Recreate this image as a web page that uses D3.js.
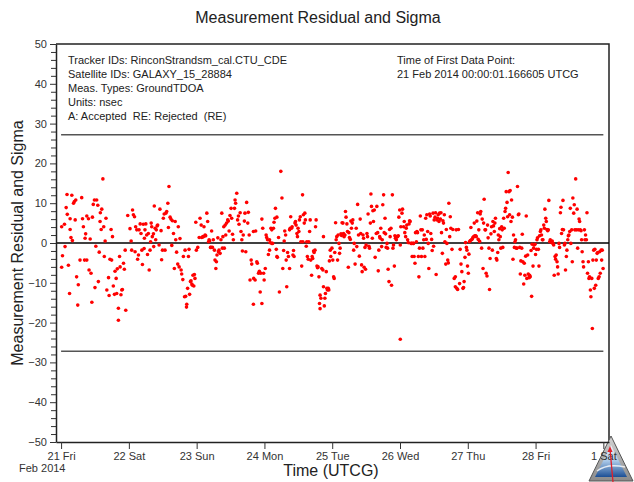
<!DOCTYPE html>
<html>
<head>
<meta charset="utf-8">
<script src="https://cdn.jsdelivr.net/npm/d3@7/dist/d3.min.js"></script>
<style>
  html, body { margin: 0; padding: 0; background: #fff; }
  svg { display: block; font-family: "Liberation Sans", Arial, sans-serif; }
</style>
</head>
<body>
<svg id="chart" width="634" height="482"></svg>
<script>
// ---- chart text ----
const chartTitle = "Measurement Residual and Sigma";
const yAxisTitle = "Measurement Residual and Sigma";
const xAxisTitle = "Time (UTCG)";
const monthLabel = "Feb 2014";
const headerLeft = [
  "Tracker IDs: RinconStrandsm_cal.CTU_CDE",
  "Satellite IDs: GALAXY_15_28884",
  "Meas. Types: GroundTDOA",
  "Units: nsec",
  "A: Accepted  RE: Rejected  (RE)"
];
const headerRight = [
  "Time of First Data Point:",
  "21 Feb 2014 00:00:01.166605 UTCG"
];

// ---- axes ----
const yMajorTicks = [50, 40, 30, 20, 10, 0, -10, -20, -30, -40, -50];
const xTickDays = ["2014-02-21", "2014-02-22", "2014-02-23", "2014-02-24", "2014-02-25",
                   "2014-02-26", "2014-02-27", "2014-02-28", "2014-03-01"];
const xTickLabels = ["21 Fri", "22 Sat", "23 Sun", "24 Mon", "25 Tue",
                     "26 Wed", "27 Thu", "28 Fri", "1 Sat"];

// ---- measurement data ----
const firstDataTime = "2014-02-21T00:00:01.166Z";
const lastDataHour = 192;          // hours after first data point
const sigmaBound = 27.2;           // nsec, +/- sigma
// [hours after first data point, residual in nsec]
const residualSamples = [
  [0.2,4.1],[1.2,4.7],[0.5,-3.2],[0.2,-6.1],[1.4,-0.9],[1.8,8.9],[2.2,7.2],[2.1,12.2],[3.2,6.1],[3.2,3.4],
  [2.6,-5.6],[3.0,-12.7],[3.5,1.4],[4.0,0.6],[3.8,12.0],[4.4,10.0],[4.7,10.4],[5.2,10.8],[5.0,5.8],[5.5,-8.5],
  [5.9,-15.6],[6.1,-10.5],[6.7,-4.3],[7.3,11.4],[7.6,6.1],[7.9,4.1],[8.3,-4.3],[8.7,2.3],[8.5,1.2],[9.1,-4.3],
  [9.1,6.8],[9.7,6.1],[9.9,-6.8],[10.3,1.0],[10.6,-7.6],[10.9,-14.9],[11.1,6.5],[11.4,9.7],[11.8,10.8],[12.0,-11.2],
  [12.3,-0.8],[12.6,10.8],[13.0,9.5],[13.2,-9.7],[13.5,-2.3],[13.8,5.4],[13.9,7.6],[14.2,3.4],[14.4,8.5],[14.8,16.1],
  [15.1,4.1],[15.3,-3.4],[15.6,0.5],[15.9,6.2],[16.2,-11.8],[16.8,-8.7],[17.0,-13.2],[17.3,-4.1],[17.7,3.4],[17.9,-4.3],
  [18.2,1.6],[18.5,-10.8],[18.9,-12.9],[19.1,-7.1],[19.5,-8.9],[19.7,-12.7],[19.9,-6.5],[20.3,-16.4],[20.3,-19.4],[20.7,-3.4],
  [20.9,-6.0],[21.2,-13.0],[21.5,-11.8],[21.7,-11.7],[22.1,-5.1],[22.4,-6.6],[22.7,-1.8],[22.9,-16.9],
  [23.6,6.9],[24.4,3.6],[24.8,0.5],[25.0,-1.8],[25.3,8.3],[25.6,7.1],[26.0,6.6],[26.2,-2.2],[26.4,4.1],[26.8,3.3],
  [27.1,-4.1],[27.4,-3.0],[27.6,3.3],[28.0,4.8],[28.3,2.4],[28.6,-1.8],[28.8,-5.4],[29.1,4.7],[29.4,-1.4],[29.5,1.2],
  [29.7,3.3],[30.0,4.8],[30.3,2.0],[30.6,-2.9],[30.9,2.4],[31.2,-6.8],[31.5,-1.8],[31.7,0.3],[31.9,5.0],[32.1,4.1],
  [32.3,1.6],[32.7,2.3],[32.8,-0.9],[33.0,9.3],[33.3,3.7],[33.5,0.8],[33.7,3.3],[34.0,4.3],[34.2,4.5],[34.7,-0.5],
  [35.0,8.5],[35.4,3.1],[35.6,-4.2],[35.9,-1.8],[36.2,6.2],[36.5,7.3],[36.8,-1.8],[37.1,7.5],[37.4,7.9],[37.8,10.0],
  [38.0,3.9],[38.2,14.2],[38.6,6.5],[38.9,6.0],[39.2,-0.6],[39.4,5.6],[39.8,2.4],[40.1,-6.4],[40.4,5.4],[40.6,0.8],
  [40.9,-2.3],[41.3,-5.3],[41.5,4.1],[41.8,-6.0],[42.1,1.1],[42.5,-6.8],[42.7,-7.8],[43.1,-9.2],[43.3,-3.4],[43.7,-13.5],
  [43.9,-1.8],[44.1,-13.4],[44.4,-16.1],[44.5,-15.4],[44.8,-11.4],[45.1,-3.4],[45.3,-1.6],[45.5,-12.9],[45.8,-9.7],[46.0,-9.5],
  [46.3,-10.3],[46.5,-10.6],[46.7,-8.1],[47.0,-10.8],[47.2,-7.9],[47.4,-8.9],[47.7,5.2],[47.9,-1.8],[48.4,-1.1],[48.9,1.4],
  [49.2,6.2],[49.6,4.5],[49.8,1.4],[50.2,1.6],[50.4,1.6],[50.6,4.1],[51.0,2.0],[51.2,1.8],[51.6,7.5],[51.9,5.4],
  [52.2,0.3],[52.4,0.8],[52.6,0.5],[52.9,-1.1],[53.1,-1.1],[53.3,3.0],[53.6,-1.1],[53.9,0.8],[54.3,-1.8],[54.5,-4.3],
  [54.8,-6.4],[55.0,-4.7],[55.2,-3.0],[55.5,1.3],[55.7,-2.2],[55.9,-1.8],[56.3,-2.6],[56.6,0.8],[56.9,7.5],[57.1,-1.3],
  [57.3,1.6],[57.6,4.1],[57.8,-1.3],[58.1,4.5],[58.3,2.0],[58.6,5.0],[59.0,5.8],[59.2,5.5],[59.5,3.0],[59.8,6.9],
  [60.2,8.7],[60.4,6.2],[60.7,2.2],[61.0,0.8],[61.4,8.7],[61.6,10.8],[61.8,10.0],[62.2,12.5],[62.5,5.8],[62.8,6.8],
  [63.0,4.7],[63.4,7.6],[63.7,2.9],[64.0,0.8],[64.2,-2.0],[64.5,2.0],[64.9,5.5],[65.1,7.5],[65.4,-2.2],[65.7,10.2],
  [66.1,5.0],[66.3,7.7],[66.6,2.0],[66.9,-9.3],[67.3,-4.3],[67.5,-5.3],[68.1,2.9],[68.2,-8.9],[68.1,-15.4],
  [68.7,-9.3],[68.9,3.0],[69.3,-4.7],[69.5,-5.1],[69.9,-7.6],[70.2,-7.1],[70.5,-12.3],[70.7,-7.6],[71.1,6.0],[71.1,-15.2],
  [71.4,3.7],[71.7,-7.6],[71.9,-9.3],[72.3,-6.4],[72.6,2.0],[72.8,1.4],[73.1,0.8],[73.4,-2.9],[73.8,-1.8],[73.8,0.8],
  [74.0,0.1],[74.3,3.7],[74.6,3.3],[74.6,-0.1],[74.9,-0.1],[75.2,3.7],[75.4,5.2],[75.7,6.2],[75.9,8.7],[76.2,-1.6],
  [76.4,-3.4],[76.4,6.5],[76.6,-3.6],[77.0,1.4],[77.3,-12.3],[77.8,18.0],[78.2,11.3],[78.5,-6.4],[78.8,-1.9],[79.0,0.5],
  [79.2,3.0],[79.5,2.0],[79.7,-4.3],[79.9,-11.0],[80.2,-2.4],[80.5,-3.4],[80.9,-6.4],[80.9,3.3],[81.1,3.7],[81.3,6.6],
  [81.6,3.7],[81.8,4.1],[82.1,-3.0],[82.3,-1.9],[82.5,-3.4],[82.8,5.0],[83.0,5.4],[83.2,4.5],[83.5,2.4],[83.7,1.6],
  [83.9,3.7],[84.2,2.9],[84.4,5.8],[84.7,6.6],[84.9,0.3],[85.2,-5.8],[85.5,12.1],[85.6,0.3],[85.8,7.1],[86.1,5.0],
  [86.3,7.5],[86.5,5.8],[86.8,-0.8],[87.0,0.3],[87.2,-3.4],[87.5,-4.1],[87.7,0.3],[88.0,2.9],[88.2,5.8],[88.4,-4.3],
  [88.7,-8.1],[88.9,-3.4],[89.1,-3.9],[89.4,-2.0],[89.6,-2.4],[89.9,-1.8],[90.1,4.1],[90.3,5.8],[90.6,-5.8],[90.8,-6.2],
  [91.0,-6.0],[91.3,-8.5],[91.5,-15.2],[91.7,-13.1],[91.7,-16.5],[92.0,-13.9],[92.3,-6.4],[92.7,-6.8],[92.9,1.6],[92.9,-11.0],
  [93.2,-15.8],[93.4,-13.9],[93.6,-12.7],[93.9,-7.2],[94.1,-11.4],[94.3,-11.8],[94.6,-11.4],[94.8,-11.8],[95.0,-4.5],[95.3,-1.8],
  [95.5,-3.4],[95.9,-1.3],[96.2,-4.3],[96.5,-8.5],[96.7,-8.9],[96.9,-2.4],[97.2,5.1],[97.4,0.8],[97.6,1.6],[97.9,-4.3],
  [98.1,2.0],[98.4,-0.1],[98.6,-2.6],[98.8,-1.3],[99.1,2.3],[99.3,1.9],[99.5,5.1],[99.8,5.0],[100.0,2.4],[100.2,1.6],
  [100.5,2.0],[100.7,7.9],[100.9,6.5],[101.2,4.8],[101.4,2.9],[101.7,-6.1],[101.9,2.6],[102.1,1.4],[102.4,0.9],[102.6,5.5],
  [102.8,3.7],[103.1,5.0],[103.3,5.8],[103.6,-1.8],[103.8,-0.1],[104.1,-5.3],[104.5,3.7],[104.7,-0.9],[105.0,9.7],[105.3,2.0],
  [105.6,-3.3],[105.9,6.0],[106.1,2.4],[106.4,-5.5],[106.6,-7.2],[106.9,2.0],[107.1,1.2],[107.3,-6.1],[107.6,-1.1],[107.8,-6.6],
  [108.0,-0.5],[108.3,2.4],[108.5,1.6],[108.7,7.3],[109.0,-0.8],[109.2,-1.3],[109.5,5.0],[109.7,12.3],[109.9,9.2],[110.2,1.2],
  [110.4,8.1],[110.6,5.4],[110.9,8.3],[111.2,-3.6],[111.6,2.4],[111.8,9.2],[112.1,2.6],[112.3,-7.0],[112.5,-1.8],[112.8,1.6],
  [113.0,1.2],[113.2,3.7],[113.5,-0.9],[113.7,0.8],[113.9,9.6],[114.2,12.1],[114.4,2.6],[114.7,6.2],[114.9,2.3],[115.1,-1.1],
  [115.4,-0.1],[115.6,-1.3],[115.8,-6.6],[116.1,-9.7],[116.3,3.4],[116.5,1.6],[116.8,3.7],[117.0,-10.6],[117.3,12.1],[117.5,-1.3],
  [117.7,-0.5],[118.0,-5.8],[118.2,1.8],[118.4,1.2],[118.7,0.8],[118.9,1.6],[119.1,1.6],[119.4,1.8],[119.6,6.5],[119.9,8.3],
  [120.1,-0.5],[120.1,-24.2],[120.3,4.1],[120.7,7.5],[120.9,8.5],[121.3,4.1],[121.5,5.4],[121.7,2.6],[122.0,1.6],[122.2,3.7],
  [122.4,4.5],[122.7,0.8],[122.9,0.1],[123.2,4.8],[123.4,5.6],[123.6,5.4],[123.9,-0.1],[124.1,-0.1],[124.3,-3.4],[124.6,-0.1],
  [124.8,-0.1],[125.0,-3.4],[125.3,-5.1],[125.5,2.6],[125.8,0.3],[126.0,2.9],[126.2,2.6],[126.5,-3.4],[126.7,-8.5],[126.9,-1.3],
  [127.2,6.8],[127.4,3.3],[127.6,-3.4],[127.9,3.3],[128.1,-1.3],[128.4,0.8],[128.6,2.0],[128.8,-3.4],[129.1,6.2],[129.3,0.9],
  [129.5,7.1],[129.8,2.9],[130.0,-0.1],[130.2,-6.4],[130.5,7.3],[130.7,6.8],[130.9,2.4],[131.2,0.9],[131.4,-1.9],[131.7,7.5],
  [131.9,-0.8],[132.1,5.8],[132.4,6.5],[132.6,7.6],[132.8,-7.9],[133.1,5.8],[133.3,6.2],[133.5,7.1],[133.8,5.4],[134.0,7.5],
  [134.3,6.0],[134.5,7.6],[134.7,2.6],[135.0,-2.6],[135.2,5.6],[135.4,5.0],[135.7,7.1],[135.9,0.3],[136.2,-5.3],[136.4,3.4],
  [136.6,-0.1],[136.9,-4.3],[137.1,-5.0],[137.3,10.0],[137.6,1.6],
  [137.8,6.6],[138.0,3.7],[138.4,-1.6],[138.7,3.4],[139.2,-8.9],[139.6,-8.5],[139.6,-11.0],[139.9,3.3],[140.1,-11.4],[140.4,-11.7],
  [140.7,3.4],[141.1,-10.2],[141.3,-1.6],[141.6,-5.3],[141.9,-7.2],[142.3,-11.4],[142.5,-11.2],[142.7,-9.7],[143.0,-3.6],[143.2,0.1],
  [143.5,-1.1],[143.7,-1.8],[143.9,-5.8],[144.2,-7.6],[144.4,-2.8],[144.6,0.3],[144.9,0.6],[145.1,3.9],[145.3,0.8],[145.6,1.0],
  [145.8,1.4],[146.1,1.6],[146.3,5.0],[146.5,1.8],[146.8,1.8],[147.0,1.6],[147.2,5.5],[147.5,7.6],[147.7,0.9],[147.9,3.3],
  [148.2,0.4],[148.4,7.3],[148.6,7.9],[148.9,-1.3],[149.1,6.0],[149.4,-6.4],[149.6,5.0],[149.8,11.0],[150.1,3.3],[150.3,3.3],
  [150.5,-7.6],[150.8,-8.3],[151.0,4.5],[151.2,1.3],[151.5,-1.3],[151.7,-11.7],[151.9,-3.9],[152.2,2.3],[152.4,4.1],[152.7,-1.8],
  [152.9,5.4],[153.1,4.3],[153.4,2.9],[153.6,5.0],[153.8,6.2],[154.1,-3.9],[154.3,-4.3],[154.6,-2.4],[154.8,2.0],[155.0,0.8],
  [155.3,3.6],[155.5,1.6],[155.7,-1.3],[156.0,4.1],[156.2,3.3],[156.4,-1.1],[156.7,6.2],[156.9,3.7],[157.2,7.9],[157.4,8.7],
  [157.6,12.9],[157.9,10.2],[158.1,6.6],[158.3,17.7],[158.6,12.9],[158.8,7.1],[159.0,13.2],[159.3,5.4],[159.5,10.8],[159.8,6.5],
  [160.0,-4.1],[160.2,2.0],[160.5,-1.1],[160.7,0.3],[160.9,0.8],[161.2,-1.3],[161.4,-1.3],[161.6,14.2],[161.9,7.1],[162.1,7.3],
  [162.4,-1.1],[162.6,-7.8],[162.8,-4.5],[163.1,-1.3],[163.3,2.2],[163.5,-4.7],[163.8,-10.3],[164.0,-5.1],[164.2,-8.1],[164.5,-3.3],
  [164.7,6.8],[164.9,-8.9],[165.2,-3.0],[165.4,-7.8],[165.7,-8.7],[165.9,-8.1],[166.1,-8.5],[166.4,-1.9],[166.6,-13.4],[166.8,-0.3],
  [167.1,-5.8],[167.3,-1.3],[167.5,-0.5],[167.8,-0.3],[168.0,-2.9],[168.3,-1.6],[168.5,0.8],[168.7,1.3],[169.0,-1.6],[169.2,-5.8],
  [169.4,1.8],[169.7,2.9],[169.9,3.3],[170.1,2.0],[170.4,0.8],[170.6,0.8],[170.9,4.5],[171.1,3.7],[171.3,8.5],[171.6,6.2],
  [171.8,5.4],[172.0,3.4],[172.3,3.1],[172.5,3.3],[172.7,10.7],[173.0,0.3],[173.2,0.8],[173.4,0.3],[173.7,0.1],[173.9,0.5],
  [174.2,-0.1],[174.4,-0.5],[174.6,-8.1],[174.9,-3.4],[175.1,-4.1],[175.3,-3.0],[175.6,-4.7],[175.8,-6.0],[176.0,-7.8],[176.3,-0.1],
  [176.5,-1.1],[176.8,7.6],[177.0,9.0],[177.2,2.4],[177.5,3.4],[177.7,10.7],[177.9,3.3],[178.2,-0.5],[178.4,-0.1],[178.6,-6.8],
  [178.9,-3.4],[179.1,-1.8],[179.4,0.8],[179.6,1.8],[179.8,2.0],[180.1,2.9],[180.3,8.7],[180.5,-0.1],[180.8,3.3],[181.0,-4.7],
  [181.2,11.3],[181.5,7.5],[181.7,9.6],[181.9,3.3],[182.2,16.1],[182.4,3.3],[182.7,8.5],[182.9,-1.3],[183.1,3.3],[183.4,6.0],
  [183.6,5.4],[183.8,3.3],[184.1,3.1],[184.3,0.8],[184.5,-2.2],[184.8,-4.7],[185.0,-6.0],[185.3,3.3],[185.5,0.8],[185.7,2.0],
  [186.0,0.8],[186.2,7.6],[186.4,-7.6],[186.7,-4.7],[186.9,-8.9],[187.1,-8.5],[187.4,-11.8],[187.6,-13.5],[187.9,-8.9],[188.1,-21.5],
  [188.3,-4.3],[188.6,-1.8],[188.8,-11.4],[189.0,-1.6],[189.3,-10.6],[189.5,-4.3],[189.8,-2.6],[190.0,-2.4],[190.2,-8.9],[190.5,-8.5],
  [190.7,-2.2],[190.9,-7.6],[191.2,-1.8],[191.4,-4.3],[191.6,-1.8],[191.9,-6.4]
];

// ---- layout ----
const svg = d3.select("#chart");
const plot = { left: 56, right: 609, top: 44, bottom: 442 };
const HOUR = 3600 * 1000;
const t0 = new Date(firstDataTime);
const toTime = h => new Date(t0.getTime() + h * HOUR);

const x = d3.scaleUtc()
  .domain([new Date(Date.parse("2014-02-21T00:00:00Z") - 1.8 * HOUR),
           new Date(Date.parse("2014-03-01T00:00:00Z") + 2.0 * HOUR)])
  .range([plot.left, plot.right]);
const y = d3.scaleLinear().domain([-50, 50]).range([plot.bottom, plot.top]);

const textColor = "#222";
// keep runs of spaces visible in SVG text
const keepSpaces = s => s.replace(/ {2}/g, " \u00a0");

// title
svg.append("text")
  .attr("x", 318).attr("y", 23)
  .attr("text-anchor", "middle")
  .attr("font-size", 16).attr("fill", textColor)
  .text(chartTitle);

// plot frame (top and right edges)
svg.append("path")
  .attr("d", `M${plot.left},${plot.top}H${plot.right}V${plot.bottom}`)
  .attr("fill", "none").attr("stroke", "#222").attr("stroke-width", 1.5);

// header annotation block
const hdr = svg.append("g").attr("font-size", 11).attr("fill", textColor);
hdr.selectAll("text.left").data(headerLeft).join("text")
  .attr("class", "left")
  .attr("x", 68).attr("y", (d, i) => 64 + i * 14)
  .text(d => keepSpaces(d));
hdr.selectAll("text.right").data(headerRight).join("text")
  .attr("class", "right")
  .attr("x", 397).attr("y", (d, i) => 64 + i * 14)
  .text(d => keepSpaces(d));

// sigma bounds over the data span
const spanStart = toTime(0), spanEnd = toTime(lastDataHour);
svg.selectAll("line.sigma").data([sigmaBound, -sigmaBound]).join("line")
  .attr("class", "sigma")
  .attr("x1", x(spanStart)).attr("x2", x(spanEnd))
  .attr("y1", d => y(d)).attr("y2", d => y(d))
  .attr("stroke", "#555").attr("stroke-width", 1.5);

// zero reference
svg.append("line")
  .attr("x1", plot.left).attr("x2", plot.right)
  .attr("y1", y(0)).attr("y2", y(0))
  .attr("stroke", "#000").attr("stroke-width", 1.5);

// residual points
svg.append("g").selectAll("circle").data(residualSamples).join("circle")
  .attr("cx", d => x(toTime(d[0])))
  .attr("cy", d => y(d[1]))
  .attr("r", 1.8)
  .attr("fill", "#ff0000");

// corner logo body (drawn under the axis labels)
const defs = svg.append("defs");
const rim = defs.append("linearGradient").attr("id", "logoRim").attr("x1", 0).attr("y1", 0).attr("x2", 0).attr("y2", 1);
rim.append("stop").attr("offset", "0%").attr("stop-color", "#d4d4d4");
rim.append("stop").attr("offset", "100%").attr("stop-color", "#8a8a8a");
const face = defs.append("linearGradient").attr("id", "logoFace").attr("x1", 0).attr("y1", 0).attr("x2", 0).attr("y2", 1);
face.append("stop").attr("offset", "0%").attr("stop-color", "#f4f7fb");
face.append("stop").attr("offset", "50%").attr("stop-color", "#a9c8e8");
face.append("stop").attr("offset", "100%").attr("stop-color", "#1c4f95");
const logo = svg.append("g");
logo.append("path").attr("d", "M611,436L633,481L589,481Z")
  .attr("fill", "url(#logoRim)").attr("stroke", "#555").attr("stroke-width", 1);
logo.append("path").attr("d", "M611,445L627,477L595,477Z")
  .attr("fill", "url(#logoFace)");
logo.append("path").attr("d", "M597,471Q607,463 625,467")
  .attr("fill", "none").attr("stroke", "#ffffff").attr("stroke-width", 1.5).attr("opacity", 0.8);

// y axis: major and minor ticks
const yMinor = d3.range(-50, 51, 2).filter(v => v % 10 !== 0);
const yAxisMinor = svg.append("g")
  .attr("transform", `translate(${plot.left},0)`)
  .call(d3.axisLeft(y).tickValues(yMinor).tickSize(5).tickFormat(""));
yAxisMinor.select(".domain").remove();
const yAxis = svg.append("g")
  .attr("transform", `translate(${plot.left},0)`)
  .call(d3.axisLeft(y).tickValues(yMajorTicks).tickSize(6).tickPadding(3).tickSizeOuter(0));
yAxis.selectAll("text").attr("font-size", 11).attr("fill", "#333")
  .attr("font-family", "'Liberation Sans', Arial, sans-serif");
svg.selectAll(".tick line").attr("stroke", "#333");
yAxis.select(".domain").attr("stroke", "#222").attr("stroke-width", 1.5);

// x axis: one tick per day
const xTickDates = xTickDays.map(s => new Date(s + "T00:00:00Z"));
const xAxis = svg.append("g")
  .attr("transform", `translate(0,${plot.bottom})`)
  .call(d3.axisBottom(x).tickValues(xTickDates).tickSize(7).tickPadding(3).tickSizeOuter(0)
    .tickFormat((d, i) => xTickLabels[i]));
xAxis.selectAll("text").attr("font-size", 11).attr("fill", "#333")
  .attr("font-family", "'Liberation Sans', Arial, sans-serif");
xAxis.selectAll(".tick line").attr("stroke", "#333");
xAxis.select(".domain").attr("stroke", "#222").attr("stroke-width", 1.5);

svg.append("text")
  .attr("x", 19).attr("y", 472)
  .attr("font-size", 11).attr("fill", "#333")
  .text(monthLabel);

// logo arrow on top of the day label
svg.append("path").attr("d", "M613,482L610,449")
  .attr("stroke", "#e0202a").attr("stroke-width", 1.3);
svg.append("path").attr("d", "M610,446L607.5,452L612.5,452Z").attr("fill", "#e0202a");

// axis titles
svg.append("text")
  .attr("x", 331).attr("y", 476)
  .attr("text-anchor", "middle")
  .attr("font-size", 16).attr("fill", textColor)
  .text(xAxisTitle);
svg.append("text")
  .attr("transform", `translate(23,${y(0)}) rotate(-90)`)
  .attr("text-anchor", "middle")
  .attr("font-size", 16).attr("fill", textColor)
  .text(yAxisTitle);
</script>
</body>
</html>
